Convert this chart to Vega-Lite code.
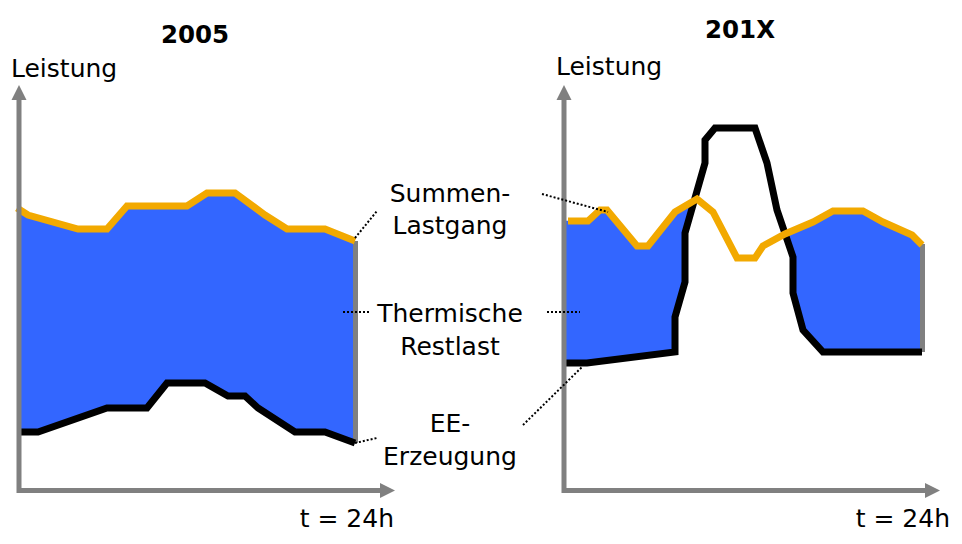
{
  "$schema": "https://vega.github.io/schema/vega-lite/v6.json",
  "width": 962,
  "height": 544,
  "autosize": {"type": "fit", "contains": "padding"},
  "padding": 0,
  "background": "white",
  "config": {"view": {"stroke": null}},
  "datasets": {
    "fill": [
      {"g": "a", "i": 1, "x": 21, "y": 334}, {"g": "a", "i": 2, "x": 28, "y": 329}, {"g": "a", "i": 3, "x": 78, "y": 315}, {"g": "a", "i": 4, "x": 107, "y": 315},
      {"g": "a", "i": 5, "x": 127, "y": 338}, {"g": "a", "i": 6, "x": 187, "y": 338}, {"g": "a", "i": 7, "x": 207, "y": 351}, {"g": "a", "i": 8, "x": 235, "y": 351},
      {"g": "a", "i": 9, "x": 265, "y": 329}, {"g": "a", "i": 10, "x": 287, "y": 315}, {"g": "a", "i": 11, "x": 325, "y": 315}, {"g": "a", "i": 12, "x": 355, "y": 303},
      {"g": "a", "i": 13, "x": 355, "y": 101}, {"g": "a", "i": 14, "x": 325, "y": 112}, {"g": "a", "i": 15, "x": 295, "y": 112}, {"g": "a", "i": 16, "x": 258, "y": 136},
      {"g": "a", "i": 17, "x": 245, "y": 148}, {"g": "a", "i": 18, "x": 228, "y": 148}, {"g": "a", "i": 19, "x": 205, "y": 161}, {"g": "a", "i": 20, "x": 167, "y": 161},
      {"g": "a", "i": 21, "x": 147, "y": 136}, {"g": "a", "i": 22, "x": 107, "y": 136}, {"g": "a", "i": 23, "x": 38, "y": 112}, {"g": "a", "i": 24, "x": 21, "y": 112},
      {"g": "b", "i": 1, "x": 566, "y": 323}, {"g": "b", "i": 2, "x": 588, "y": 323}, {"g": "b", "i": 3, "x": 600, "y": 334}, {"g": "b", "i": 4, "x": 607, "y": 334},
      {"g": "b", "i": 5, "x": 637, "y": 298}, {"g": "b", "i": 6, "x": 648, "y": 298}, {"g": "b", "i": 7, "x": 675, "y": 332}, {"g": "b", "i": 8, "x": 694, "y": 343},
      {"g": "b", "i": 9, "x": 685, "y": 311}, {"g": "b", "i": 10, "x": 685, "y": 262}, {"g": "b", "i": 11, "x": 675, "y": 227}, {"g": "b", "i": 12, "x": 675, "y": 192},
      {"g": "b", "i": 13, "x": 587, "y": 181}, {"g": "b", "i": 14, "x": 566, "y": 181},
      {"g": "c", "i": 1, "x": 785, "y": 310}, {"g": "c", "i": 2, "x": 813, "y": 322}, {"g": "c", "i": 3, "x": 833, "y": 333}, {"g": "c", "i": 4, "x": 863, "y": 333},
      {"g": "c", "i": 5, "x": 883, "y": 322}, {"g": "c", "i": 6, "x": 912, "y": 309}, {"g": "c", "i": 7, "x": 921, "y": 300}, {"g": "c", "i": 8, "x": 921, "y": 192},
      {"g": "c", "i": 9, "x": 823, "y": 192}, {"g": "c", "i": 10, "x": 803, "y": 214}, {"g": "c", "i": 11, "x": 793, "y": 251}, {"g": "c", "i": 12, "x": 793, "y": 287}
    ],
    "load": [
      {"g": "a", "i": 1, "x": 17, "y": 336}, {"g": "a", "i": 2, "x": 28, "y": 329}, {"g": "a", "i": 3, "x": 78, "y": 315}, {"g": "a", "i": 4, "x": 107, "y": 315},
      {"g": "a", "i": 5, "x": 127, "y": 338}, {"g": "a", "i": 6, "x": 187, "y": 338}, {"g": "a", "i": 7, "x": 207, "y": 351}, {"g": "a", "i": 8, "x": 235, "y": 351},
      {"g": "a", "i": 9, "x": 265, "y": 329}, {"g": "a", "i": 10, "x": 287, "y": 315}, {"g": "a", "i": 11, "x": 325, "y": 315}, {"g": "a", "i": 12, "x": 355, "y": 303},
      {"g": "b", "i": 1, "x": 568, "y": 323}, {"g": "b", "i": 2, "x": 588, "y": 323}, {"g": "b", "i": 3, "x": 600, "y": 334}, {"g": "b", "i": 4, "x": 607, "y": 334},
      {"g": "b", "i": 5, "x": 637, "y": 298}, {"g": "b", "i": 6, "x": 648, "y": 298}, {"g": "b", "i": 7, "x": 675, "y": 332}, {"g": "b", "i": 8, "x": 697, "y": 345},
      {"g": "b", "i": 9, "x": 713, "y": 332}, {"g": "b", "i": 10, "x": 737, "y": 286}, {"g": "b", "i": 11, "x": 755, "y": 286}, {"g": "b", "i": 12, "x": 763, "y": 298},
      {"g": "b", "i": 13, "x": 785, "y": 310}, {"g": "b", "i": 14, "x": 813, "y": 322}, {"g": "b", "i": 15, "x": 833, "y": 333}, {"g": "b", "i": 16, "x": 863, "y": 333},
      {"g": "b", "i": 17, "x": 883, "y": 322}, {"g": "b", "i": 18, "x": 912, "y": 309}, {"g": "b", "i": 19, "x": 922, "y": 299}
    ],
    "ee": [
      {"g": "a", "i": 1, "x": 19, "y": 112}, {"g": "a", "i": 2, "x": 38, "y": 112}, {"g": "a", "i": 3, "x": 107, "y": 136}, {"g": "a", "i": 4, "x": 147, "y": 136},
      {"g": "a", "i": 5, "x": 167, "y": 161}, {"g": "a", "i": 6, "x": 205, "y": 161}, {"g": "a", "i": 7, "x": 228, "y": 148}, {"g": "a", "i": 8, "x": 245, "y": 148},
      {"g": "a", "i": 9, "x": 258, "y": 136}, {"g": "a", "i": 10, "x": 295, "y": 112}, {"g": "a", "i": 11, "x": 325, "y": 112}, {"g": "a", "i": 12, "x": 355, "y": 101},
      {"g": "b", "i": 1, "x": 566, "y": 181}, {"g": "b", "i": 2, "x": 587, "y": 181}, {"g": "b", "i": 3, "x": 675, "y": 192}, {"g": "b", "i": 4, "x": 675, "y": 227},
      {"g": "b", "i": 5, "x": 685, "y": 262}, {"g": "b", "i": 6, "x": 685, "y": 311}, {"g": "b", "i": 7, "x": 705, "y": 381}, {"g": "b", "i": 8, "x": 705, "y": 404},
      {"g": "b", "i": 9, "x": 715, "y": 416}, {"g": "b", "i": 10, "x": 755, "y": 416}, {"g": "b", "i": 11, "x": 767, "y": 381}, {"g": "b", "i": 12, "x": 777, "y": 334},
      {"g": "b", "i": 13, "x": 793, "y": 287}, {"g": "b", "i": 14, "x": 793, "y": 251}, {"g": "b", "i": 15, "x": 803, "y": 214}, {"g": "b", "i": 16, "x": 823, "y": 192},
      {"g": "b", "i": 17, "x": 922, "y": 192}
    ],
    "edges": [
      {"x": 355.5, "x2": 355.5, "y": 303, "y2": 101},
      {"x": 922.5, "x2": 922.5, "y": 300, "y2": 192}
    ],
    "axes": [
      {"x": 19, "x2": 19, "y": 51, "y2": 446},
      {"x": 17, "x2": 384, "y": 53.5, "y2": 53.5},
      {"x": 564, "x2": 564, "y": 51, "y2": 446},
      {"x": 562, "x2": 929, "y": 53.5, "y2": 53.5}
    ],
    "arrows": [
      {"x": 19, "y": 451.5, "dir": "up"},
      {"x": 387.5, "y": 53.5, "dir": "right"},
      {"x": 564, "y": 451.5, "dir": "up"},
      {"x": 932.5, "y": 53.5, "dir": "right"}
    ],
    "leaders": [
      {"x": 355, "x2": 377, "y": 306, "y2": 333},
      {"x": 542, "x2": 608, "y": 350, "y2": 332},
      {"x": 343, "x2": 369, "y": 232, "y2": 232},
      {"x": 547, "x2": 580, "y": 232, "y2": 232},
      {"x": 355, "x2": 377, "y": 101, "y2": 106},
      {"x": 523, "x2": 582, "y": 119, "y2": 177}
    ],
    "titles": [
      {"x": 195, "y": 501, "text": "2005"},
      {"x": 740, "y": 506, "text": "201X"}
    ],
    "labelsLeft": [
      {"x": 11, "y": 467, "text": "Leistung"},
      {"x": 556, "y": 469, "text": "Leistung"}
    ],
    "labelsRight": [
      {"x": 394, "y": 17, "text": "t = 24h"},
      {"x": 950, "y": 17, "text": "t = 24h"}
    ],
    "labelsCenter": [
      {"x": 450, "y": 342, "text": "Summen-"},
      {"x": 450, "y": 310, "text": "Lastgang"},
      {"x": 450, "y": 222, "text": "Thermische"},
      {"x": 450, "y": 189, "text": "Restlast"},
      {"x": 450, "y": 112, "text": "EE-"},
      {"x": 450, "y": 79, "text": "Erzeugung"}
    ]
  },
  "layer": [
    {
      "data": {"name": "fill"},
      "mark": {"type": "line", "fill": "#3366FF", "stroke": "#3366FF", "strokeWidth": 0.5, "clip": false},
      "encoding": {
        "x": {"field": "x", "type": "quantitative", "scale": {"domain": [0, 962], "nice": false, "zero": false}, "axis": null},
        "y": {"field": "y", "type": "quantitative", "scale": {"domain": [0, 544], "nice": false, "zero": false}, "axis": null},
        "detail": {"field": "g"},
        "order": {"field": "i", "type": "quantitative"}
      }
    },
    {
      "data": {"name": "edges"},
      "mark": {"type": "rule", "color": "#808080", "strokeWidth": 5},
      "encoding": {
        "x": {"field": "x", "type": "quantitative"},
        "x2": {"field": "x2"},
        "y": {"field": "y", "type": "quantitative"},
        "y2": {"field": "y2"}
      }
    },
    {
      "data": {"name": "ee"},
      "mark": {"type": "line", "color": "#000000", "strokeWidth": 7, "strokeJoin": "miter", "strokeCap": "butt"},
      "encoding": {
        "x": {"field": "x", "type": "quantitative"},
        "y": {"field": "y", "type": "quantitative"},
        "detail": {"field": "g"},
        "order": {"field": "i", "type": "quantitative"}
      }
    },
    {
      "data": {"name": "load"},
      "mark": {"type": "line", "color": "#F2A900", "strokeWidth": 7, "strokeJoin": "miter", "strokeCap": "butt"},
      "encoding": {
        "x": {"field": "x", "type": "quantitative"},
        "y": {"field": "y", "type": "quantitative"},
        "detail": {"field": "g"},
        "order": {"field": "i", "type": "quantitative"}
      }
    },
    {
      "data": {"name": "axes"},
      "mark": {"type": "rule", "color": "#808080", "strokeWidth": 5},
      "encoding": {
        "x": {"field": "x", "type": "quantitative"},
        "x2": {"field": "x2"},
        "y": {"field": "y", "type": "quantitative"},
        "y2": {"field": "y2"}
      }
    },
    {
      "data": {"name": "arrows"},
      "mark": {"type": "point", "filled": true, "color": "#808080", "opacity": 1, "size": 225},
      "encoding": {
        "x": {"field": "x", "type": "quantitative"},
        "y": {"field": "y", "type": "quantitative"},
        "shape": {
          "field": "dir",
          "type": "nominal",
          "scale": {"domain": ["up", "right"], "range": ["M0,-1L1,1L-1,1Z", "M1,0L-1,-1L-1,1Z"]},
          "legend": null
        }
      }
    },
    {
      "data": {"name": "leaders"},
      "mark": {"type": "rule", "color": "#000000", "strokeWidth": 2, "strokeDash": [2, 2]},
      "encoding": {
        "x": {"field": "x", "type": "quantitative"},
        "x2": {"field": "x2"},
        "y": {"field": "y", "type": "quantitative"},
        "y2": {"field": "y2"}
      }
    },
    {
      "data": {"name": "titles"},
      "mark": {"type": "text", "font": "DejaVu Sans", "fontSize": 24.5, "fontWeight": "bold", "align": "center", "baseline": "alphabetic", "color": "#000000"},
      "encoding": {
        "x": {"field": "x", "type": "quantitative"},
        "y": {"field": "y", "type": "quantitative"},
        "text": {"field": "text"}
      }
    },
    {
      "data": {"name": "labelsLeft"},
      "mark": {"type": "text", "font": "DejaVu Sans", "fontSize": 25, "align": "left", "baseline": "alphabetic", "color": "#000000"},
      "encoding": {
        "x": {"field": "x", "type": "quantitative"},
        "y": {"field": "y", "type": "quantitative"},
        "text": {"field": "text"}
      }
    },
    {
      "data": {"name": "labelsRight"},
      "mark": {"type": "text", "font": "DejaVu Sans", "fontSize": 25, "align": "right", "baseline": "alphabetic", "color": "#000000"},
      "encoding": {
        "x": {"field": "x", "type": "quantitative"},
        "y": {"field": "y", "type": "quantitative"},
        "text": {"field": "text"}
      }
    },
    {
      "data": {"name": "labelsCenter"},
      "mark": {"type": "text", "font": "DejaVu Sans", "fontSize": 25, "align": "center", "baseline": "alphabetic", "color": "#000000"},
      "encoding": {
        "x": {"field": "x", "type": "quantitative"},
        "y": {"field": "y", "type": "quantitative"},
        "text": {"field": "text"}
      }
    }
  ]
}
